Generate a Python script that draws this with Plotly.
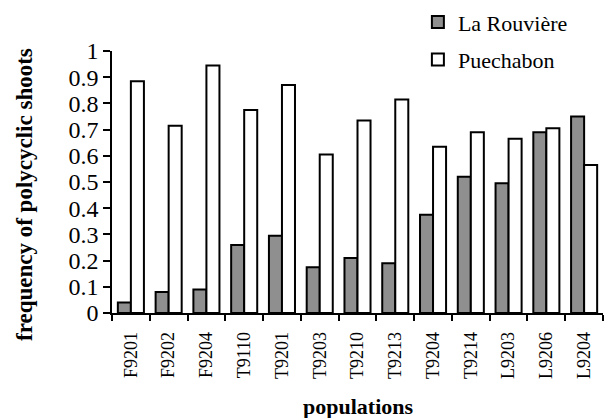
import plotly.graph_objects as go

populations = ["F9201", "F9202", "F9204", "T9110", "T9201", "T9203", "T9210",
               "T9213", "T9204", "T9214", "L9203", "L9206", "L9204"]
la_rouviere = [0.04, 0.08, 0.09, 0.26, 0.295, 0.175, 0.21, 0.19, 0.375, 0.52, 0.495, 0.69, 0.75]
puechabon = [0.885, 0.715, 0.945, 0.775, 0.87, 0.605, 0.735, 0.815, 0.635, 0.69, 0.665, 0.705, 0.565]
y_ticks = [0, 0.1, 0.2, 0.3, 0.4, 0.5, 0.6, 0.7, 0.8, 0.9, 1]
y_tick_text = ["0", "0.1", "0.2", "0.3", "0.4", "0.5", "0.6", "0.7", "0.8", "0.9", "1"]

FONT = "Liberation Serif, Times New Roman, serif"

fig = go.Figure()
fig.add_trace(go.Bar(x=populations, y=la_rouviere, name="La Rouvière",
                     legendgroup="a",
                     marker=dict(color="#8f8f8f", line=dict(color="black", width=2))))
fig.add_trace(go.Bar(x=populations, y=puechabon, name="Puechabon",
                     legendgroup="b",
                     marker=dict(color="white", line=dict(color="black", width=2))))

fig.update_layout(
    width=604, height=418,
    margin=dict(l=112, r=1, t=48, b=105),
    paper_bgcolor="white", plot_bgcolor="white",
    font=dict(family=FONT, color="black", size=20),
    barmode="group", bargap=0.31, bargroupgap=0,
    showlegend=True,
    legend=dict(x=0.623, y=1.19, xanchor="left", yanchor="top",
                bgcolor="rgba(0,0,0,0)", font=dict(size=22, family=FONT),
                tracegroupgap=6, itemwidth=30),
    xaxis=dict(type="category", tickson="boundaries", ticks="outside", ticklen=6,
               tickwidth=1.5, tickcolor="black", showline=True, linecolor="black",
               linewidth=1.5, showgrid=False, tickangle=-90, ticklabelstandoff=10,
               tickfont=dict(size=18, family=FONT)),
    yaxis=dict(range=[0, 1], tickvals=y_ticks, ticktext=y_tick_text,
               ticks="outside", ticklen=7, tickwidth=1.5, tickcolor="black",
               showline=True, linecolor="black", linewidth=1.5, showgrid=False,
               zeroline=False, tickfont=dict(size=24, family=FONT)),
    annotations=[
        dict(text="<b>frequency of polycyclic shoots</b>", xref="paper", yref="paper",
             x=0, y=0.5, xanchor="center", yanchor="middle", textangle=-90,
             showarrow=False, font=dict(size=23, family=FONT),
             yshift=-13, xshift=-88),
        dict(text="<b>populations</b>", xref="paper", yref="paper",
             x=0.5, y=0, yshift=-93, xanchor="center", yanchor="middle",
             showarrow=False, font=dict(size=22, family=FONT)),
    ],
)

fig.write_html("out.html", config={"displayModeBar": False},
               post_script="document.body.style.margin='0';")
